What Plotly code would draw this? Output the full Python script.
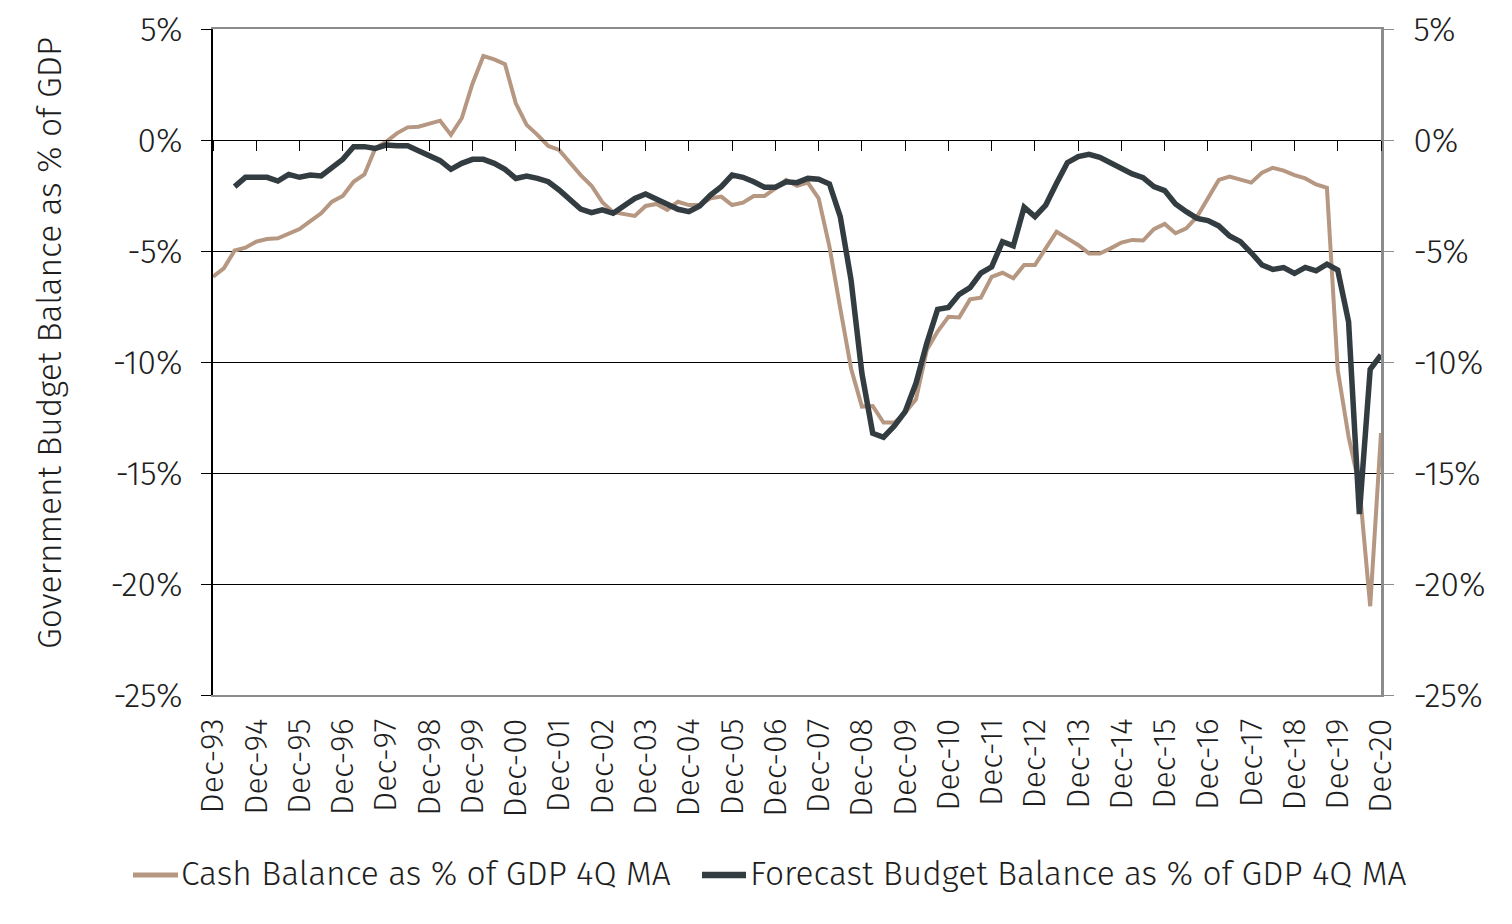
import plotly.graph_objects as go

# ---------------- data ----------------
years = list(range(1993, 2021))
months = ["Mar", "Jun", "Sep", "Dec"]
quarters = ["Dec-93"]
for y in years[1:]:
    for m in months:
        quarters.append(f"{m}-{y % 100:02d}")

year_ticks = [f"Dec-{y % 100:02d}" for y in years]

cash_balance = [
    -6.16, -5.78, -4.98, -4.85, -4.58, -4.46, -4.43, -4.23, -4.01, -3.65,
    -3.30, -2.78, -2.52, -1.88, -1.55, -0.38, -0.08, 0.30, 0.57, 0.60,
    0.75, 0.87, 0.23, 0.98, 2.55, 3.78, 3.63, 3.41, 1.65, 0.68,
    0.23, -0.27, -0.45, -1.05, -1.58, -2.06, -2.80, -3.25, -3.33, -3.42,
    -2.97, -2.88, -3.15, -2.78, -2.93, -2.93, -2.63, -2.55, -2.93, -2.82,
    -2.52, -2.52, -2.18, -1.80, -2.06, -1.92, -2.63, -4.80, -7.58, -10.29,
    -12.01, -11.98, -12.73, -12.73, -12.28, -11.68, -9.46, -8.63, -7.96, -7.99,
    -7.18, -7.10, -6.16, -5.98, -6.23, -5.63, -5.63, -4.88, -4.13, -4.43,
    -4.73, -5.11, -5.11, -4.88, -4.62, -4.50, -4.53, -4.02, -3.78, -4.20,
    -3.98, -3.45, -2.63, -1.80, -1.65, -1.80, -1.92, -1.47, -1.25, -1.38,
    -1.58, -1.73, -2.00, -2.15, -10.36, -13.36, -15.60, -21.00, -13.20,
]

forecast_balance = [
    None, None, -2.10, -1.68, -1.68, -1.68, -1.85, -1.55, -1.68, -1.58,
    -1.62, -1.25, -0.87, -0.30, -0.30, -0.38, -0.23, -0.26, -0.26, -0.48,
    -0.68, -0.93, -1.32, -1.05, -0.87, -0.87, -1.05, -1.32, -1.73, -1.62,
    -1.73, -1.88, -2.25, -2.67, -3.11, -3.27, -3.15, -3.30, -2.97, -2.63,
    -2.43, -2.67, -2.85, -3.12, -3.23, -2.97, -2.48, -2.10, -1.58, -1.68,
    -1.88, -2.13, -2.13, -1.88, -1.92, -1.73, -1.77, -1.98, -3.45, -6.31,
    -10.51, -13.21, -13.39, -12.88, -12.24, -10.96, -9.16, -7.63, -7.54, -6.95,
    -6.65, -6.00, -5.71, -4.58, -4.77, -3.03, -3.45, -2.93, -1.95, -1.02,
    -0.75, -0.65, -0.78, -1.05, -1.28, -1.53, -1.70, -2.10, -2.28, -2.88,
    -3.23, -3.53, -3.63, -3.87, -4.32, -4.58, -5.08, -5.63, -5.83, -5.75,
    -6.01, -5.74, -5.89, -5.59, -5.86, -8.18, -16.85, -10.33, -9.68,
]

y_tick_vals = [5, 0, -5, -10, -15, -20, -25]
y_tick_text = ["5%", "0%", "-5%", "-10%", "-15%", "-20%", "-25%"]

series_names = ["Cash Balance as % of GDP 4Q MA", "Forecast Budget Balance as % of GDP 4Q MA"]
y_title = "Government Budget Balance as % of GDP"

# ---------------- style ----------------
TAN = "#B59782"
DARK = "#323C41"
GRAY = "#8C8C8C"
TXT = "#1E1E1E"
FONT = "Fira Sans, Roboto, Lato, sans-serif"
FS = 33.5
tfont = dict(family=FONT, size=FS, color=TXT, weight=300)
xfont = dict(family=FONT, size=32, color=TXT, weight=300)

fig = go.Figure()
fig.add_trace(go.Scatter(x=quarters, y=cash_balance, name=series_names[0], mode="lines",
                         line=dict(color=TAN, width=4)))
fig.add_trace(go.Scatter(x=quarters, y=forecast_balance, name=series_names[1], mode="lines",
                         line=dict(color=DARK, width=5.5)))
# helper traces so the auxiliary axes are drawn
fig.add_trace(go.Scatter(x=quarters, y=[None] * len(quarters), xaxis="x2", yaxis="y",
                         showlegend=False, hoverinfo="skip", mode="lines"))
fig.add_trace(go.Scatter(x=quarters, y=[None] * len(quarters), xaxis="x", yaxis="y2",
                         showlegend=False, hoverinfo="skip", mode="lines"))

cat_axis = dict(type="category", categoryorder="array", categoryarray=quarters,
                range=[0, len(quarters) - 1])

# custom legend (line sample + text) in paper coordinates
def px_x(p):
    return (p - 213) / 1168

def px_y(p):
    return (695 - p) / 666

legend_items = [
    (series_names[0], TAN, 5, 133, 178, 179),
    (series_names[1], DARK, 6.5, 702, 746, 748),
]
shapes = []
annotations = [dict(text=y_title, xref="paper", yref="paper", x=px_x(50), y=px_y(343),
                    xanchor="center", yanchor="middle", textangle=-90, showarrow=False,
                    font=tfont)]
for name, col, w, x0, x1, tx in legend_items:
    shapes.append(dict(type="line", xref="paper", yref="paper", x0=px_x(x0), x1=px_x(x1),
                       y0=px_y(875), y1=px_y(875), line=dict(color=col, width=w)))
    annotations.append(dict(text=name, xref="paper", yref="paper", x=px_x(tx), y=px_y(874),
                            xanchor="left", yanchor="middle", showarrow=False, font=tfont))

fig.update_layout(
    width=1512, height=924,
    margin=dict(l=205, r=139, t=21, b=237, autoexpand=False),
    paper_bgcolor="white", plot_bgcolor="white",
    font=tfont,
    showlegend=False,
    xaxis=dict(**cat_axis, tickmode="array", tickvals=year_ticks, ticktext=year_ticks,
               tickangle=-90, ticks="", showgrid=False, showline=True, linecolor=GRAY,
               linewidth=1.5, mirror=True, ticklabelstandoff=9, tickfont=xfont),
    xaxis2=dict(**cat_axis, overlaying="x", anchor="free", position=25 / 30,
                tickmode="array", tickvals=year_ticks, showticklabels=False,
                ticks="outside", ticklen=10, tickcolor="black", tickwidth=1,
                showline=True, linecolor="black", linewidth=1, showgrid=False),
    yaxis=dict(range=[-25, 5], tickmode="array", tickvals=y_tick_vals, ticktext=y_tick_text,
               showgrid=True, gridcolor="black", gridwidth=1, zeroline=True,
               zerolinecolor="black", zerolinewidth=1, showline=True, linecolor="black",
               linewidth=1.5, ticks="outside", ticklen=10, tickcolor="black",
               ticklabelstandoff=12, tickfont=tfont),
    yaxis2=dict(range=[-25, 5], overlaying="y", side="right", anchor="x",
                tickmode="array", tickvals=y_tick_vals, ticktext=y_tick_text,
                showgrid=False, zeroline=False, showline=True, linecolor=GRAY,
                linewidth=2.5, ticks="outside", ticklen=10, tickcolor=GRAY,
                ticklabelstandoff=13, tickfont=tfont),
    shapes=shapes,
    annotations=annotations,
)

fig.write_html("out.html")
